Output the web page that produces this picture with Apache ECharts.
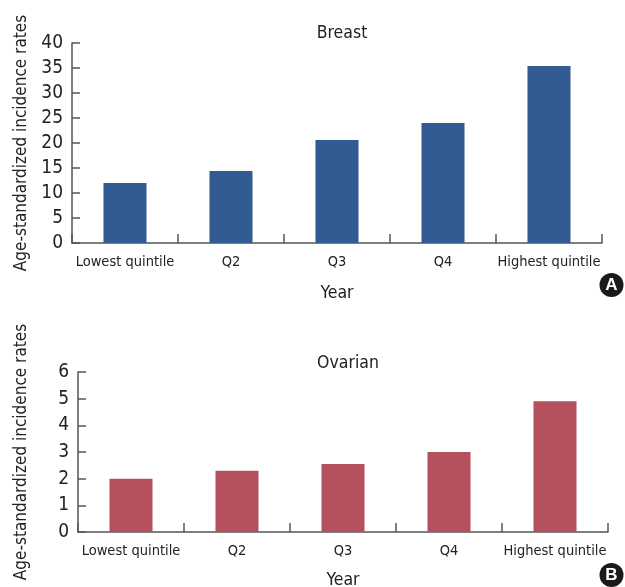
<!DOCTYPE html>
<html><head><meta charset="utf-8">
<script src="https://cdn.jsdelivr.net/npm/echarts@6/dist/echarts.min.js"></script>
<style>html,body{margin:0;padding:0;background:#fff}#c{width:625px;height:587px}</style>
</head><body><div id="c"></div>
<script>
const categories = ["Lowest quintile", "Q2", "Q3", "Q4", "Highest quintile"];
const breastValues = [12.0, 14.4, 20.6, 24.0, 35.4];
const ovarianValues = [2.0, 2.3, 2.55, 3.0, 4.9];
const breastTicks = {min: 0, max: 40, interval: 5};
const ovarianTicks = {min: 0, max: 6, interval: 1};
const titles = ["Breast", "Ovarian"];
const yName = "Age-standardized incidence rates";
const xName = "Year";

const FONT = "'DejaVu Sans Condensed', 'Liberation Sans', sans-serif";
const axisCol = '#555';
const txtCol = '#222';

function xAx(gi) {
  return {
    type: 'category', gridIndex: gi, data: categories,
    name: xName, nameLocation: 'middle', nameGap: gi === 0 ? 41 : 39,
    nameTextStyle: {fontFamily: FONT, fontSize: 17.5, color: txtCol},
    axisLine: {lineStyle: {color: axisCol, width: 1.5}},
    axisTick: {show: true, inside: true, length: 9, alignWithLabel: false, lineStyle: {color: axisCol, width: 1.5}},
    axisLabel: {interval: 0, margin: 12, fontFamily: FONT, fontSize: 14.5, color: txtCol}
  };
}
function yAx(gi, t) {
  return {
    type: 'value', gridIndex: gi, min: t.min, max: t.max, interval: t.interval,
    name: yName, nameLocation: 'middle', nameGap: gi === 0 ? 42 : 48,
    nameTextStyle: {fontFamily: FONT, fontSize: 17, color: txtCol},
    axisLine: {show: true, lineStyle: {color: axisCol, width: 1.5}},
    axisTick: {show: true, inside: true, length: 8, lineStyle: {color: axisCol, width: 1.5}},
    splitLine: {show: false},
    axisLabel: {margin: 9, fontFamily: FONT, fontSize: 19, color: txtCol}
  };
}

const chart = echarts.init(document.getElementById('c'), null, {renderer: 'canvas'});
chart.setOption({
  animation: false,
  backgroundColor: '#fff',
  title: [
    {text: titles[0], left: 337, top: 19, textAlign: 'center', textStyle: {fontFamily: FONT, fontSize: 17.5, fontWeight: 'normal', color: txtCol}},
    {text: titles[1], left: 343, top: 349, textAlign: 'center', textStyle: {fontFamily: FONT, fontSize: 17.5, fontWeight: 'normal', color: txtCol}}
  ],
  grid: [
    {left: 72, top: 43, width: 530, height: 200, containLabel: false, outerBoundsMode: 'none'},
    {left: 78, top: 372, width: 530, height: 160, containLabel: false, outerBoundsMode: 'none'}
  ],
  xAxis: [xAx(0), xAx(1)],
  yAxis: [yAx(0, breastTicks), yAx(1, ovarianTicks)],
  series: [
    {type: 'bar', xAxisIndex: 0, yAxisIndex: 0, data: breastValues, barWidth: '40.6%', itemStyle: {color: '#325A93'}},
    {type: 'bar', xAxisIndex: 1, yAxisIndex: 1, data: ovarianValues, barWidth: '40.6%', itemStyle: {color: '#B5515E'}}
  ],
  graphic: [
    {type: 'circle', shape: {cx: 611.5, cy: 285, r: 12}, style: {fill: '#1a1a1a'}},
    {type: 'text', x: 611.5, y: 285, style: {text: 'A', fill: '#fff', font: "bold 17px 'Liberation Sans', sans-serif", textAlign: 'center', textVerticalAlign: 'middle'}},
    {type: 'circle', shape: {cx: 611.5, cy: 575, r: 12}, style: {fill: '#1a1a1a'}},
    {type: 'text', x: 611.5, y: 575, style: {text: 'B', fill: '#fff', font: "bold 17px 'Liberation Sans', sans-serif", textAlign: 'center', textVerticalAlign: 'middle'}}
  ]
});
</script></body></html>
